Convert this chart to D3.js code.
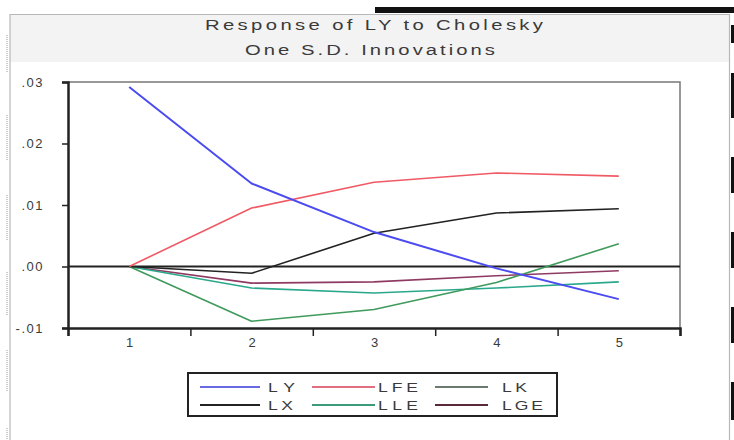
<!DOCTYPE html>
<html>
<head>
<meta charset="utf-8">
<script src="https://cdn.jsdelivr.net/npm/d3@7"></script>
<style>
  html, body { margin: 0; padding: 0; background: #ffffff; }
  svg { display: block; }
  text { font-family: "Liberation Sans", Arial, sans-serif; fill: #3a3a3a; }
</style>
</head>
<body>
<svg id="chart" width="734" height="440"></svg>
<script>
// ---- data ----
const periods = [1, 2, 3, 4, 5];
const seriesNames = ["LY", "LFE", "LK", "LX", "LLE", "LGE"];
const LY  = [0.0292, 0.0135, 0.0056, -0.0003, -0.0053];
const LFE = [0.0000, 0.0095, 0.0137, 0.0152, 0.0147];
const LK  = [0.0000, -0.0089, -0.0070, -0.0026, 0.0037];
const LX  = [0.0000, -0.0011, 0.0054, 0.0087, 0.0094];
const LLE = [0.0000, -0.0035, -0.0043, -0.0035, -0.0025];
const LGE = [0.0000, -0.0027, -0.0025, -0.0015, -0.0007];
const yTickValues = [0.03, 0.02, 0.01, 0.00, -0.01];
const yTickLabels = [".03", ".02", ".01", ".00", "-.01"];
const xTickLabels = ["1", "2", "3", "4", "5"];
const titleLines = ["Response of LY to Cholesky", "One S.D. Innovations"];

const seriesValues = { LY, LFE, LK, LX, LLE, LGE };
const colors = { LY: "#4b4bf0", LFE: "#f05a64", LK: "#3f9a5c", LX: "#222222", LLE: "#2aa88c", LGE: "#8e3a62" };
const legendColors = { LY: "#6a6ae0", LFE: "#e07080", LK: "#6a7a6e", LX: "#222222", LLE: "#3a9a7a", LGE: "#5a2a3a" };

const svg = d3.select("#chart");

// background decorations
svg.append("rect").attr("x", 10).attr("y", 15).attr("width", 719).attr("height", 47).attr("fill", "#f3f3f3");
svg.append("rect").attr("x", 375).attr("y", 7).attr("width", 359).attr("height", 6).attr("fill", "#111");
[[25, 43], [73, 118], [157, 193], [232, 268], [307, 343], [382, 420]].forEach(([a, b]) => {
  svg.append("rect").attr("x", 731).attr("y", a).attr("width", 3).attr("height", b - a).attr("fill", "#111");
});
// outer frame
svg.append("path").attr("d", "M10,440 V14.5 H729.5 V440").attr("fill", "none").attr("stroke", "#b8b8b8").attr("stroke-width", 1.2);
// dotted marks on left edge
[[35, 72], [115, 160], [195, 240], [272, 315], [350, 392], [428, 440]].forEach(([a, b]) => {
  svg.append("line").attr("x1", 7).attr("x2", 7).attr("y1", a).attr("y2", b)
    .attr("stroke", "#999").attr("stroke-dasharray", "1,1");
});

// stretched text helper (glyphs widened horizontally, as in the reference)
function wideText(x0, x1, yy, str, size, sx, fill) {
  svg.append("text").attr("transform", `scale(${sx},1)`)
    .attr("x", x0 / sx).attr("y", yy).attr("font-size", size).attr("fill", fill)
    .attr("textLength", (x1 - x0) / sx).attr("lengthAdjust", "spacing").text(str);
}

// title
const titlePos = [[205, 543, 30], [245, 495, 55]];
titleLines.forEach((t, i) => {
  const [x0, x1, yy] = titlePos[i];
  wideText(x0, x1, yy, t, 15, 1.35, "#4a4a4a");
});

// scales
const x = d3.scaleLinear().domain([0.5, 5.5]).range([68, 680]);
const y = d3.scaleLinear().domain([-0.01, 0.03]).range([328, 82]);

// plot frame top/right (gray)
svg.append("path").attr("d", `M${x(0.5)},${y(0.03)} H${x(5.5)} V${y(-0.01)}`)
  .attr("fill", "none").attr("stroke", "#777").attr("stroke-width", 1.5);

// zero line
svg.append("line").attr("x1", x(0.5)).attr("x2", x(5.5)).attr("y1", y(0)).attr("y2", y(0))
  .attr("stroke", "#222").attr("stroke-width", 1.8);

// y axis
const yAxis = d3.axisLeft(y).tickValues(yTickValues).tickSize(6)
  .tickFormat((d, i) => yTickLabels[i]);
const gy = svg.append("g").attr("transform", `translate(${x(0.5)},0)`).call(yAxis);
gy.select(".domain").attr("stroke", "#222").attr("stroke-width", 2.5);
gy.selectAll(".tick line").attr("stroke", "#222").attr("stroke-width", 1.5);
gy.selectAll(".tick text").attr("font-size", 13).attr("letter-spacing", 1.5)
  .attr("x", -24).attr("fill", "#555").style("font-family", "Liberation Sans, Arial, sans-serif");

// x axis: minor ticks at half periods
const xAxisTicks = d3.axisBottom(x).tickValues(d3.range(0.5, 5.6, 1)).tickSize(8).tickFormat("");
const gx = svg.append("g").attr("transform", `translate(0,${y(-0.01)})`).call(xAxisTicks);
gx.select(".domain").attr("stroke", "#222").attr("stroke-width", 2.5);
gx.selectAll(".tick line").attr("stroke", "#222").attr("stroke-width", 1.5);
// x labels at integers
const xAxisLabels = d3.axisBottom(x).tickValues(periods).tickSize(0).tickFormat((d, i) => xTickLabels[i]);
const gxl = svg.append("g").attr("transform", `translate(0,${y(-0.01)})`).call(xAxisLabels);
gxl.select(".domain").remove();
gxl.selectAll(".tick text").attr("font-size", 13).attr("y", 10).attr("fill", "#555")
  .style("font-family", "Liberation Sans, Arial, sans-serif");

// lines
const line = d3.line().x((d, i) => x(periods[i])).y(d => y(d));
const drawOrder = ["LGE", "LLE", "LK", "LX", "LFE", "LY"];
drawOrder.forEach(name => {
  svg.append("path").datum(seriesValues[name]).attr("d", line)
    .attr("fill", "none").attr("stroke", colors[name])
    .attr("stroke-width", name === "LY" ? 2 : 1.6).attr("stroke-linejoin", "round");
});

// legend
svg.append("rect").attr("x", 188).attr("y", 373).attr("width", 369).attr("height", 43)
  .attr("fill", "#fff").attr("stroke", "#222").attr("stroke-width", 2);
const legLine = [[200, 260], [312, 375], [435, 488]];
const legTextX = [268, 378, 502];
const legRows = [387, 405];
const legWidths = { LY: 27, LX: 25, LFE: 40, LLE: 40, LK: 25, LGE: 41 };
seriesNames.forEach((name, i) => {
  const col = i % 3, row = Math.floor(i / 3);
  const yy = legRows[row];
  svg.append("line").attr("x1", legLine[col][0]).attr("x2", legLine[col][1])
    .attr("y1", yy).attr("y2", yy).attr("stroke", legendColors[name]).attr("stroke-width", 2);
  const x0 = legTextX[col];
  wideText(x0, x0 + legWidths[name], yy + 5, name, 13.5, 1.3, "#555");
});
</script>
</body>
</html>
